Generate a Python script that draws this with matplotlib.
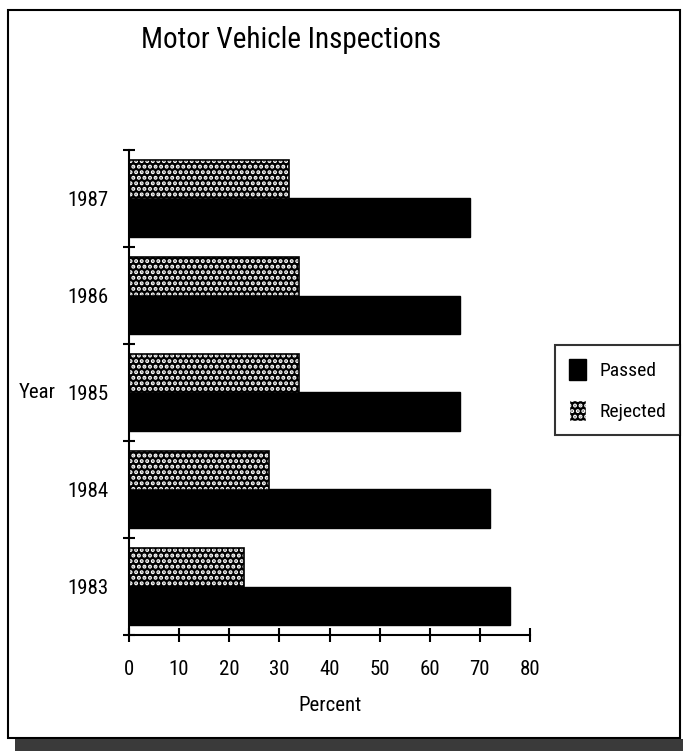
import numpy as np
import matplotlib
matplotlib.use("Agg")
import matplotlib.pyplot as plt
from matplotlib.patches import Patch, Rectangle

plt.rcParams['font.family'] = ['Roboto Condensed', 'DejaVu Sans Condensed',
                               'Liberation Sans Narrow', 'Liberation Sans', 'DejaVu Sans']
plt.rcParams['font.stretch'] = 'condensed'
plt.rcParams['hatch.linewidth'] = 2.0

# data
years = ['1983', '1984', '1985', '1986', '1987']
passed = [76, 72, 66, 66, 68]
rejected = [23, 28, 34, 34, 32]

W, H = 683, 751
fig = plt.figure(figsize=(W / 100, H / 100), dpi=100)
ax = fig.add_axes([129 / W, 1 - 635 / H, 401 / W, 485 / H])

y = np.arange(len(years))
bh = 0.4

# passed: solid dark
ax.barh(y - bh / 2, passed, height=bh, color='black', edgecolor='black', linewidth=1)
# rejected: white dots on black
ax.barh(y + bh / 2, rejected, height=bh, facecolor='black', edgecolor='white',
        hatch='...', linewidth=0)
ax.barh(y + bh / 2, rejected, height=bh, fill=False, edgecolor='black', linewidth=1.2)

ax.set_xlim(0, 80)
ax.set_ylim(-0.5, len(years) - 0.5)
ax.set_xticks(np.arange(0, 81, 10))
ax.set_yticks(y)
ax.set_yticklabels(years)
ax.set_yticks(np.arange(-0.5, len(years), 1), minor=True)

for s in ['top', 'right']:
    ax.spines[s].set_visible(False)
for s in ['left', 'bottom']:
    ax.spines[s].set_linewidth(1.5)

ax.tick_params(axis='x', direction='inout', length=10, width=1.5, pad=13, labelsize=15)
ax.tick_params(axis='y', which='major', length=0, pad=15, labelsize=15)
ax.tick_params(axis='y', which='minor', direction='inout', length=9, width=1.5)

ax.set_xlabel('Percent', fontsize=15, labelpad=12)

fig.text(37 / W, 1 - 392 / H, 'Year', fontsize=15, ha='center', va='center')
fig.text(291 / W, 1 - 40 / H, 'Motor Vehicle Inspections', fontsize=21,
         ha='center', va='center')

handles = [Patch(facecolor='black', edgecolor='black', label='Passed'),
           Patch(facecolor='black', edgecolor='white', hatch='...', label='Rejected')]
leg = fig.legend(handles=handles, loc='center left',
                 bbox_to_anchor=(555 / W, 1 - 390 / H), fontsize=14,
                 frameon=True, fancybox=False, edgecolor='black',
                 handlelength=0.9, handleheight=1.3, handletextpad=0.7,
                 labelspacing=1.0, borderpad=0.7, borderaxespad=0)
leg.get_frame().set_linewidth(1.5)

# page border and scanned dark strip at bottom
fig.patches.append(Rectangle((8 / W, 1 - 738 / H), 672 / W, 728 / H, fill=False,
                             edgecolor='black', linewidth=1.5,
                             transform=fig.transFigure, figure=fig))
fig.patches.append(Rectangle((15 / W, 0), 1, 12 / H, facecolor='#3a3a3a',
                             edgecolor='none', transform=fig.transFigure, figure=fig))

fig.savefig('out.png', dpi=100)
